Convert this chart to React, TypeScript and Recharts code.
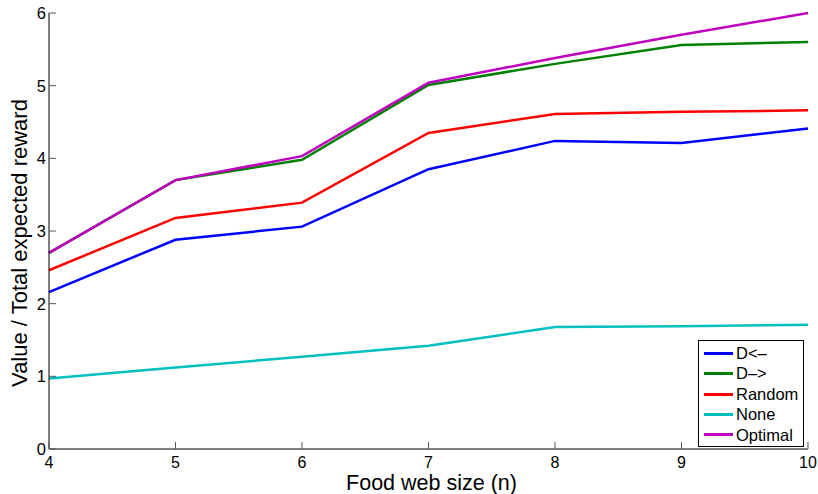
import { Legend, Line, LineChart, XAxis, YAxis } from "recharts";

const sizes = [4, 5, 6, 7, 8, 9, 10];
const dLeft = [2.16, 2.88, 3.06, 3.85, 4.24, 4.21, 4.41];
const dRight = [2.7, 3.7, 3.98, 5.01, 5.3, 5.56, 5.6];
const randomVals = [2.46, 3.18, 3.39, 4.35, 4.61, 4.64, 4.66];
const noneVals = [0.97, 1.12, 1.27, 1.42, 1.68, 1.69, 1.71];
const optimalVals = [2.7, 3.7, 4.03, 5.04, 5.38, 5.7, 6.0];
const yTicks = [0, 1, 2, 3, 4, 5, 6];

const series = [
  { key: "dLeft", name: "D<\u2013", color: "#0000ff" },
  { key: "dRight", name: "D\u2013>", color: "#008000" },
  { key: "random", name: "Random", color: "#ff0000" },
  { key: "none", name: "None", color: "#00bfbf" },
  { key: "optimal", name: "Optimal", color: "#bf00bf" },
];

const data = sizes.map((n, i) => ({
  n,
  dLeft: dLeft[i],
  dRight: dRight[i],
  random: randomVals[i],
  none: noneVals[i],
  optimal: optimalVals[i],
}));

const font = "'Liberation Sans', Arial, sans-serif";
const tickColor = "#555";

const BottomTick = ({ x, y, payload }: any) => (
  <g>
    <line x1={x} x2={x} y1={y} y2={y - 7} stroke={tickColor} />
    <text x={x} y={y + 19} textAnchor="middle" fontSize={16} fill="#000" fontFamily={font}>
      {payload.value}
    </text>
  </g>
);

const TopTick = ({ x, y }: any) => (
  <line x1={x} x2={x} y1={y} y2={y + 7} stroke={tickColor} />
);

const LeftTick = ({ x, y, payload }: any) => (
  <g>
    <line x1={x} x2={x + 7} y1={y} y2={y} stroke={tickColor} />
    <text x={x - 3} y={y + 6} textAnchor="end" fontSize={16.5} fill="#000" fontFamily={font}>
      {payload.value}
    </text>
  </g>
);

const RightTick = ({ x, y }: any) => (
  <line x1={x} x2={x - 7} y1={y} y2={y} stroke={tickColor} />
);

const XLabel = ({ viewBox }: any) => (
  <text
    x={viewBox.x + viewBox.width / 2 + 3}
    y={viewBox.y + viewBox.height - 4}
    textAnchor="middle"
    fontSize={21.5}
    fill="#000"
    fontFamily={font}
  >
    Food web size (n)
  </text>
);

const YLabel = ({ viewBox }: any) => {
  const cx = 27;
  const cy = viewBox.y + viewBox.height / 2 + 12;
  return (
    <text
      x={cx}
      y={cy}
      transform={`rotate(-90 ${cx} ${cy})`}
      textAnchor="middle"
      fontSize={22}
      fill="#000"
      fontFamily={font}
    >
      Value / Total expected reward
    </text>
  );
};

const LegendBox = () => (
  <div
    style={{
      border: "1px solid #000",
      background: "#fff",
      fontFamily: font,
      fontSize: 16.5,
      padding: "2px 2px 1px 5px",
      lineHeight: "20.4px",
      boxSizing: "border-box",
      width: 106,
    }}
  >
    {series.map((s) => (
      <div key={s.key} style={{ display: "flex", alignItems: "center" }}>
        <span
          style={{
            display: "inline-block",
            width: 29,
            height: 3,
            background: s.color,
            marginRight: 3,
          }}
        />
        <span>{s.name}</span>
      </div>
    ))}
  </div>
);

export default function App() {
  return (
    <div style={{ position: "absolute", left: 0, top: 0, width: 818, height: 494, background: "#fff" }}>
      <LineChart
        width={818}
        height={494}
        data={data}
        margin={{ top: 13, right: 10, left: 0, bottom: 0 }}
      >
        <XAxis
          dataKey="n"
          type="number"
          domain={[4, 10]}
          ticks={sizes}
          height={45}
          tickSize={0}
          tickMargin={0}
          tick={<BottomTick />}
          axisLine={{ stroke: "#000" }}
          label={<XLabel />}
        />
        <XAxis
          xAxisId="top"
          orientation="top"
          dataKey="n"
          type="number"
          domain={[4, 10]}
          ticks={sizes}
          height={0}
          tickSize={0}
          tickMargin={0}
          tick={<TopTick />}
          axisLine={{ stroke: "#000" }}
        />
        <YAxis
          type="number"
          domain={[0, 6]}
          ticks={yTicks}
          width={49}
          tickSize={0}
          tickMargin={0}
          tick={<LeftTick />}
          axisLine={{ stroke: "#000" }}
          label={<YLabel />}
        />
        <YAxis
          yAxisId="right"
          orientation="right"
          type="number"
          domain={[0, 6]}
          ticks={yTicks}
          width={0}
          tickSize={0}
          tickMargin={0}
          tick={<RightTick />}
          axisLine={{ stroke: "#000" }}
        />
        <Legend
          layout="vertical"
          align="center"
          verticalAlign="middle"
          content={<LegendBox />}
          wrapperStyle={{ position: "absolute", left: 698, top: 340, width: 106, bottom: "auto" }}
        />
        {series.map((s) => (
          <Line
            key={s.key}
            dataKey={s.key}
            name={s.name}
            stroke={s.color}
            strokeWidth={2.5}
            dot={false}
            isAnimationActive={false}
          />
        ))}
      </LineChart>
    </div>
  );
}
